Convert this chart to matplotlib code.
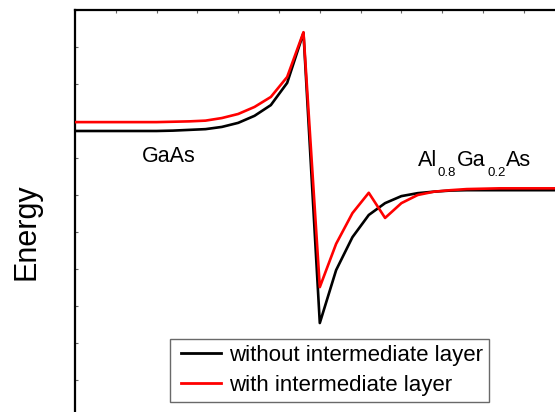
import matplotlib
matplotlib.use("Agg")
import matplotlib.pyplot as plt
from matplotlib.ticker import MultipleLocator
from matplotlib.legend_handler import HandlerLine2D
from matplotlib.lines import Line2D

plt.rcParams['font.family'] = ['Liberation Sans', 'DejaVu Sans']

# Position across the heterojunction (nm) and band energy (arb. units)
position = [0, 4, 8, 12, 16, 20, 24, 28, 32, 36, 40, 44, 48, 52, 56,
            60, 64, 68, 72, 76, 80, 84, 88, 92, 96, 100, 104, 108, 112, 116, 120]

energy_without = [6.73, 6.73, 6.73, 6.73, 6.73, 6.73, 6.74, 6.76, 6.78, 6.84,
                  6.95, 7.14, 7.43, 8.03, 9.38,
                  1.54, 2.97, 3.86, 4.46, 4.78, 4.97, 5.05, 5.09, 5.12, 5.13,
                  5.13, 5.13, 5.13, 5.13, 5.13, 5.13]

energy_with = [6.97, 6.97, 6.97, 6.97, 6.97, 6.97, 6.98, 6.99, 7.01, 7.08,
               7.19, 7.38, 7.65, 8.19, 9.40,
               2.51, 3.68, 4.51, 5.06, 4.38, 4.78, 5.00, 5.09, 5.13, 5.16,
               5.17, 5.18, 5.18, 5.18, 5.18, 5.18]

series_labels = ['without intermediate layer', 'with intermediate layer']

W, H = 555, 412
fig = plt.figure(figsize=(W / 100, H / 100), dpi=100)
ax = fig.add_axes([75 / W, -5 / H, 489.6 / W, 407 / H])

ax.plot(position, energy_without, color='black', lw=1.9, label=series_labels[0], zorder=3)
ax.plot(position, energy_with, color='#ff0000', lw=1.9, label=series_labels[1], zorder=4)

ax.set_xlim(0, 120)
ax.set_ylim(-1, 10)
ax.xaxis.set_major_locator(MultipleLocator(10))
ax.yaxis.set_major_locator(MultipleLocator(1))
ax.xaxis.tick_top()
ax.tick_params(axis='both', direction='in', length=2, width=0.8, color='#666666',
               labelleft=False, labeltop=False, labelbottom=False, labelright=False)
for side in ('left', 'top'):
    ax.spines[side].set_linewidth(1.6)
for side in ('right', 'bottom'):
    ax.spines[side].set_visible(False)

ax.text(23, 6.05, 'GaAs', fontsize=15.5, ha='center', va='center')


def fig_px(x, y):
    """Figure-pixel position (from top-left) to figure fraction."""
    return x / W, 1 - y / H


# Al0.8Ga0.2As with lowered subscripts
main_base, sub_base = 166.5, 176.5
for txt, x, base, size in [('Al', 417.5, main_base, 15.5),
                           ('0.8', 438, sub_base, 9.5),
                           ('Ga', 456.5, main_base, 15.5),
                           ('0.2', 487, sub_base, 9.5),
                           ('As', 506, main_base, 15.5)]:
    fig.text(*fig_px(x, base), txt, fontsize=size, ha='left', va='baseline')

fig.text(*fig_px(27, 232), 'Energy', rotation=90, fontsize=22,
         ha='center', va='center')

handler = HandlerLine2D(numpoints=2, marker_pad=0.27)
leg = fig.legend(loc='upper left', bbox_to_anchor=fig_px(169.5, 339),
                 fontsize=16, frameon=True, fancybox=False, borderaxespad=0,
                 handlelength=2.34, handletextpad=0.08, borderpad=0.26,
                 labelspacing=0.42, handler_map={Line2D: handler})
leg.get_frame().set_edgecolor('#444444')
leg.get_frame().set_linewidth(1.0)
for line in leg.get_lines():
    line.set_linewidth(2.0)

fig.savefig('out.png', dpi=100)
